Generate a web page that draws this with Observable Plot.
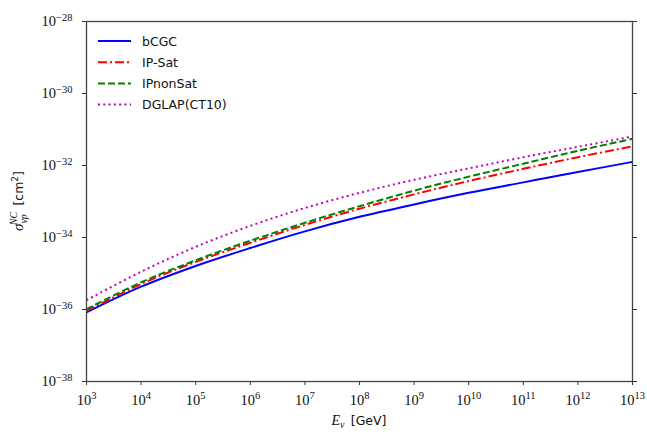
<!DOCTYPE html>
<html><head><meta charset="utf-8">
<script src="https://cdn.jsdelivr.net/npm/d3@7"></script>
<script src="https://cdn.jsdelivr.net/npm/@observablehq/plot@0.6"></script>
<style>body{margin:0;background:#fff} svg{display:block}</style>
</head><body><div id="chart"></div>
<script>
const energies = [1e3,1e4,1e5,1e6,1e7,1e8,1e9,1e10,1e11,1e12,1e13];
const bCGC     = [8.3e-37,4.3e-36,1.62e-35,5.1e-35,1.48e-34,3.75e-34,8.3e-34,1.74e-33,3.4e-33,6.6e-33,1.26e-32];
const ipSat    = [9.1e-37,5.1e-36,2.1e-35,7.1e-35,2.24e-34,6.3e-34,1.58e-33,3.7e-33,8.1e-33,1.7e-32,3.4e-32];
const ipNonSat = [1.02e-36,5.7e-36,2.33e-35,8.1e-35,2.56e-34,7.4e-34,2.0e-33,4.9e-33,1.12e-32,2.56e-32,5.5e-32];
const dglap    = [1.82e-36,1.12e-35,5.5e-35,2.1e-34,6.6e-34,1.74e-33,4.0e-33,8.3e-33,1.7e-32,3.3e-32,6.4e-32];
const seriesNames = ["bCGC","IP-Sat","IPnonSat","DGLAP(CT10)"];
const xTicks = [1e3,1e4,1e5,1e6,1e7,1e8,1e9,1e10,1e11,1e12,1e13];
const yTicks = [1e-38,1e-36,1e-34,1e-32,1e-30,1e-28];

const styles = [
  {stroke:"#0000ff", dash:null},
  {stroke:"#ff0000", dash:"9,3,2,3"},
  {stroke:"#008000", dash:"7,3"},
  {stroke:"#bf00bf", dash:"2,3.3"}
];
const allSeries = [bCGC, ipSat, ipNonSat, dglap];
const rows = [];
allSeries.forEach((s,i)=> s.forEach((v,j)=> rows.push({name:seriesNames[i], E:energies[j], s:v})));

const expFmt = d => String(Math.round(Math.log10(d)));

const lineMarks = seriesNames.map((n,i)=> Plot.line(rows.filter(r=>r.name===n), {
  x:"E", y:"s", stroke: styles[i].stroke, strokeWidth: 2, curve:"catmull-rom",
  strokeDasharray: styles[i].dash, strokeLinecap:"butt"
}));

const chart = Plot.plot({
  width: 647, height: 432,
  marginLeft: 86, marginRight: 15, marginTop: 21, marginBottom: 51,
  style: {background:"#fff", fontFamily:"'Liberation Serif', serif"},
  x: {type:"log", domain:[1e3,1e13]},
  y: {type:"log", domain:[1e-38,1e-28]},
  marks: [
    ...lineMarks,
    Plot.axisX({ticks:xTicks, tickFormat:expFmt, tickSize:4, tickPadding:4, label:null, fontSize:12, stroke:"#333"}),
    Plot.axisY({anchor:"left", ticks:yTicks, tickFormat:expFmt, tickSize:4, tickPadding:4, label:null, fontSize:12, stroke:"#333"}),
    Plot.axisY({anchor:"right", ticks:yTicks, tickFormat:()=>"", tickSize:4, label:null, stroke:"#333"}),
    Plot.frame({stroke:"#444", strokeWidth:1.3})
  ]
});
document.getElementById("chart").appendChild(chart);

const svg = d3.select(chart);
// superscript tick labels
svg.selectAll('g[aria-label="x-axis tick label"] text, g[aria-label="y-axis tick label"] text').each(function(){
  const t = d3.select(this);
  const e = t.text();
  if (!e) return;
  t.text("10").style("font-size","14.5px").attr("fill","#111");
  t.append("tspan").attr("dy","-0.5em").style("font-size","10.5px").text(e.replace("-","\u2212"));
});
svg.selectAll('g[aria-label="x-axis tick label"] text').each(function(){ this.setAttribute("y", 15); });
svg.selectAll('g[aria-label="y-axis tick label"] text').each(function(){ this.setAttribute("dx", "-6"); });

// axis labels
const xl = svg.append("text").attr("x",359).attr("y",425).attr("text-anchor","middle").style("font-size","13px").attr("fill","#111");
xl.append("tspan").style("font-family","'Liberation Serif', serif").style("font-style","italic").style("font-size","14px").text("E");
xl.append("tspan").style("font-family","'Liberation Serif', serif").style("font-style","italic").style("font-size","10px").attr("dy","3").text("\u03bd");
xl.append("tspan").attr("dy","-3").style("font-family","'DejaVu Sans', sans-serif").style("font-size","12.5px").text("\u2002[GeV]");

const yl = svg.append("text").attr("transform","translate(23,201) rotate(-90)").attr("text-anchor","middle").style("font-size","13px").attr("fill","#111");
yl.append("tspan").style("font-family","'Liberation Serif', serif").style("font-style","italic").style("font-size","15px").text("\u03c3");
yl.append("tspan").style("font-family","'Liberation Serif', serif").style("font-style","italic").style("font-size","10px").attr("dy","4").text("\u03bdp");
yl.append("tspan").style("font-family","'Liberation Serif', serif").style("font-style","italic").style("font-size","10px").attr("dx","-11").attr("dy","-10").text("NC");
yl.append("tspan").attr("dy","6").style("font-family","'DejaVu Sans', sans-serif").style("font-size","12.5px").text("\u2002[cm");
yl.append("tspan").attr("dy","-5").style("font-family","'DejaVu Sans', sans-serif").style("font-size","9px").text("2");
yl.append("tspan").attr("dy","5").style("font-family","'DejaVu Sans', sans-serif").style("font-size","12.5px").text("]");

// legend
const lg = svg.append("g");
seriesNames.forEach((n,i)=>{
  const y = 41 + i*21.2;
  lg.append("line").attr("x1",98).attr("x2",131).attr("y1",y).attr("y2",y)
    .attr("stroke",styles[i].stroke).attr("stroke-width",2).attr("stroke-dasharray",styles[i].dash);
  lg.append("text").attr("x",142).attr("y",y+4.5).attr("text-anchor","start").style("font-family","'DejaVu Sans', sans-serif").style("font-size","12.5px").attr("fill","#111").text(n);
});
</script>
</body></html>
